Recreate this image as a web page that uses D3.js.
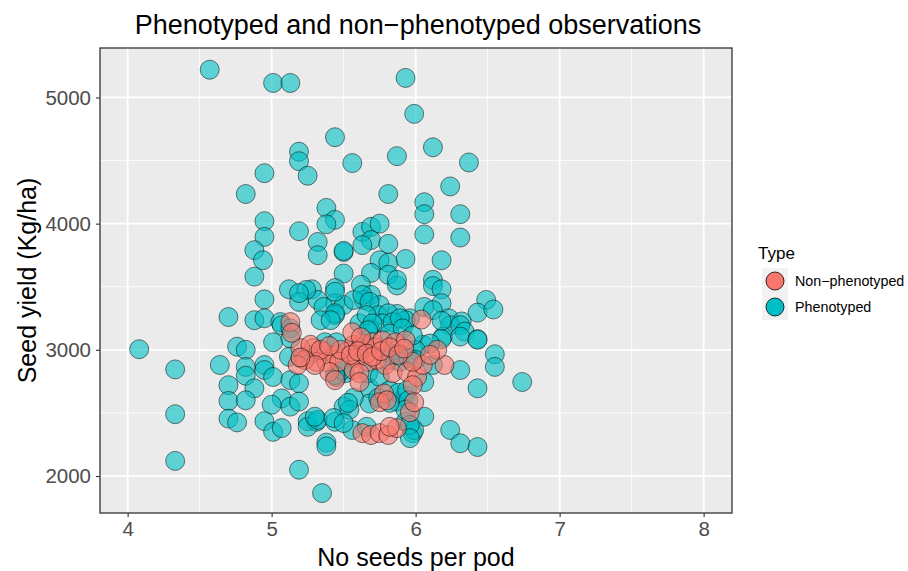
<!DOCTYPE html>
<html>
<head>
<meta charset="utf-8">
<script src="https://d3js.org/d3.v7.min.js"></script>
<style>
body { margin: 0; background: #fff; }
text { font-family: "Liberation Sans", Arial, sans-serif; }
</style>
</head>
<body>
<script>

// Phenotyped observations (seeds per pod, seed yield)
var phenoX = [4.57,5.01,5.13,5.93,5.99,5.44,5.19,5.19,5.25,5.56,5.87,4.95,4.82,5.81,5.38,5.44,5.38,4.95,4.95,5.19,
  4.88,4.94,5.32,5.32,5.50,5.50,5.63,5.69,5.75,5.69,5.63,5.81,5.75,5.81,5.93,5.50,5.69,5.81,4.88,6.12,
  6.37,6.24,6.06,6.06,6.31,6.06,6.31,6.18,6.12,5.62,5.87,5.44,5.28,5.69,5.64,5.75,5.44,5.50,5.32,5.36,
  5.44,5.87,5.96,4.95,4.70,4.88,4.95,5.12,5.24,5.19,5.06,6.12,6.18,6.18,6.06,6.12,6.49,6.43,6.54,6.23,
  6.32,5.07,5.13,5.01,5.13,4.76,4.82,4.64,4.82,4.82,4.95,4.95,5.01,5.13,5.19,5.12,4.70,4.88,4.70,4.82,
  5.07,5.13,5.00,5.19,4.70,4.76,4.95,5.01,5.07,5.25,5.31,4.08,4.33,4.33,4.33,5.25,5.32,5.44,5.56,5.38,
  5.38,5.19,5.35,5.19,5.44,5.44,5.57,5.63,5.68,5.74,5.81,5.93,5.77,5.68,5.61,5.66,5.82,5.88,5.51,5.45,
  5.68,5.68,5.74,5.57,5.50,5.54,5.87,5.93,5.93,5.98,6.24,6.31,6.34,6.19,6.31,6.43,6.43,6.55,6.55,6.74,
  6.31,6.43,6.06,6.12,6.06,5.99,6.24,6.31,6.43,6.18,6.18,6.05,6.10,6.00,5.34,5.41,5.70,5.84,5.89,5.67,
  5.82,5.91,5.98,5.37,5.45,5.61,5.67,5.81,5.89,5.49,5.44,5.67,5.75,5.95,6.00,5.82,5.88,5.94,5.95,5.93,
  5.82,5.53,5.30,5.43,5.50,5.66,5.96,5.96,5.87,5.20,5.26];
var phenoY = [5220,5115,5115,5155,4870,4685,4570,4495,4380,4480,4535,4400,4235,4235,4125,4030,3995,4020,3895,3940,
  3790,3710,3855,3750,3775,3785,3935,3975,4000,3870,3830,3840,3710,3690,3720,3605,3610,3595,3580,4605,
  4485,4295,4170,4075,4075,3915,3890,3710,3555,3515,3510,3490,3480,3435,3395,3355,3370,3355,3395,3340,
  3275,3285,3250,3400,3260,3235,3250,3480,3475,3380,3220,3505,3480,3370,3340,3315,3395,3295,3320,3250,
  3225,3195,3170,3060,3090,3025,3000,2880,2865,2795,2880,2840,2785,2760,2735,2945,2720,2695,2595,2600,
  2615,2550,2565,2590,2455,2425,2435,2350,2380,2435,2430,3005,2845,2490,2120,2390,2445,2430,2365,2265,
  2235,2050,1865,3450,3460,3290,3395,3435,3380,3275,3290,3235,3210,3170,3210,3275,2975,2975,2815,2785,
  2695,2575,2620,2620,2550,2525,2590,2640,2430,2340,3195,3195,3145,3105,3105,3085,3080,2965,2865,2745,
  2840,2695,2745,2880,2470,2365,2365,2260,2230,3230,3085,3040,3050,3000,3235,3235,3210,3220,3250,3155,
  3130,3170,3115,3060,3060,3015,3015,2920,2905,2840,2800,2815,2785,2935,2920,2680,2660,2680,2600,2525,
  2580,2580,2470,2460,2420,2390,2405,2300,3555,2935,2960];

// Non-phenotyped observations
var nonX = [5.29,5.36,5.44,5.52,5.57,5.63,5.70,5.72,5.77,5.86,5.93,5.31,5.38,5.47,5.59,5.67,5.73,5.79,5.40,5.57,
  5.61,5.84,5.94,6.01,5.44,5.61,5.98,5.78,5.75,5.96,5.63,5.69,5.75,5.81,5.87,5.20,5.27,5.34,5.23,5.30,
  5.13,5.14,5.18,5.20,6.20,6.05,5.98,5.99,6.04,5.56,5.62,6.15,6.10,5.80,5.82,5.48,5.55,5.60,5.66,5.70,
  5.76,5.82,5.88,5.92,5.40];
var nonY = [3014,2985,2960,2985,3040,3050,3060,3020,3075,3060,3075,2905,2905,2905,2935,2905,2920,2880,2825,2840,
  2815,2815,2825,2785,2760,2745,2720,2655,2585,2505,2340,2325,2340,2325,2380,3014,3040,3000,2920,2880,
  3220,3135,2880,2940,2880,2880,2905,2585,3240,3140,3100,3000,2960,2600,2390,3000,2960,2990,2970,2945,
  2990,3020,2960,3010,3030];

var xTicks = [4, 5, 6, 7, 8];
var xMinor = [4.5, 5.5, 6.5, 7.5];
var yTicks = [2000, 3000, 4000, 5000];
var yMinor = [2500, 3500, 4500];
var types = ["Non\u2212phenotyped", "Phenotyped"];
var typeColors = ["#F8766D", "#00BFC4"];

var w = 908, h = 571;
var pLeft = 100, pRight = 732, pTop = 48, pBottom = 513;

var svg = d3.select("body").append("svg")
  .attr("width", w)
  .attr("height", h);

var x = d3.scaleLinear().domain([3.808, 8.197]).range([pLeft, pRight]);
var y = d3.scaleLinear().domain([1707, 5392]).range([pBottom, pTop]);

// panel background
svg.append("rect")
  .attr("x", pLeft).attr("y", pTop)
  .attr("width", pRight - pLeft).attr("height", pBottom - pTop)
  .attr("fill", "#EBEBEB");

// grid
svg.selectAll(".xminor").data(xMinor).enter().append("line")
  .attr("x1", function(d) { return x(d); }).attr("x2", function(d) { return x(d); })
  .attr("y1", pTop).attr("y2", pBottom)
  .attr("stroke", "#fff").attr("stroke-width", 0.8);
svg.selectAll(".yminor").data(yMinor).enter().append("line")
  .attr("y1", function(d) { return y(d); }).attr("y2", function(d) { return y(d); })
  .attr("x1", pLeft).attr("x2", pRight)
  .attr("stroke", "#fff").attr("stroke-width", 0.8);
svg.selectAll(".xmajor").data(xTicks).enter().append("line")
  .attr("x1", function(d) { return x(d); }).attr("x2", function(d) { return x(d); })
  .attr("y1", pTop).attr("y2", pBottom)
  .attr("stroke", "#fff").attr("stroke-width", 1.8);
svg.selectAll(".ymajor").data(yTicks).enter().append("line")
  .attr("y1", function(d) { return y(d); }).attr("y2", function(d) { return y(d); })
  .attr("x1", pLeft).attr("x2", pRight)
  .attr("stroke", "#fff").attr("stroke-width", 1.8);

// points
var pheno = phenoX.map(function(d, i) { return [d, phenoY[i]]; });
var non = nonX.map(function(d, i) { return [d, nonY[i]]; });

function drawPoints(data, col) {
  svg.append("g").selectAll("circle")
    .data(data)
    .enter()
    .append("circle")
    .attr("cx", function(d) { return x(d[0]); })
    .attr("cy", function(d) { return y(d[1]); })
    .attr("r", 9.5)
    .attr("fill", col)
    .attr("fill-opacity", 0.6)
    .attr("stroke", "#000")
    .attr("stroke-opacity", 0.5)
    .attr("stroke-width", 1);
}
drawPoints(pheno, typeColors[1]);
drawPoints(non, typeColors[0]);

// panel border
svg.append("rect")
  .attr("x", pLeft).attr("y", pTop)
  .attr("width", pRight - pLeft).attr("height", pBottom - pTop)
  .attr("fill", "none").attr("stroke", "#333").attr("stroke-width", 1.3);

// axes
var xAxis = svg.append("g")
  .attr("transform", "translate(0," + pBottom + ")")
  .call(d3.axisBottom(x).tickValues(xTicks).tickSize(4).tickPadding(4).tickFormat(d3.format("d")));
var yAxis = svg.append("g")
  .attr("transform", "translate(" + pLeft + ",0)")
  .call(d3.axisLeft(y).tickValues(yTicks).tickSize(4).tickPadding(5).tickFormat(d3.format("d")));
[xAxis, yAxis].forEach(function(a) {
  a.select(".domain").remove();
  a.selectAll(".tick line").attr("stroke", "#333").attr("stroke-width", 1.1);
  a.selectAll(".tick text")
    .attr("fill", "#4D4D4D")
    .attr("font-size", 20.5)
    .attr("font-family", "Liberation Sans, Arial, sans-serif");
});

// titles
svg.append("text")
  .attr("x", (pLeft + pRight) / 2 + 2).attr("y", 34)
  .attr("text-anchor", "middle")
  .attr("font-size", 27)
  .text("Phenotyped and non\u2212phenotyped observations");

svg.append("text")
  .attr("x", (pLeft + pRight) / 2).attr("y", 566)
  .attr("text-anchor", "middle")
  .attr("font-size", 25)
  .text("No seeds per pod");

svg.append("text")
  .attr("transform", "translate(36," + ((pTop + pBottom) / 2) + ") rotate(-90)")
  .attr("text-anchor", "middle")
  .attr("font-size", 25)
  .text("Seed yield (Kg/ha)");

// legend
var lg = svg.append("g").attr("transform", "translate(758,0)");
lg.append("text")
  .attr("x", 0).attr("y", 259)
  .attr("font-size", 17)
  .text("Type");
lg.selectAll("rect.key").data(types).enter().append("rect")
  .attr("x", 4).attr("y", function(d, i) { return 268 + i * 26; })
  .attr("width", 26).attr("height", 26)
  .attr("fill", "#F2F2F2");
lg.selectAll("circle").data(types).enter().append("circle")
  .attr("cx", 17).attr("cy", function(d, i) { return 281 + i * 26; })
  .attr("r", 9)
  .attr("fill", function(d, i) { return typeColors[i]; })
  .attr("stroke", "#000").attr("stroke-opacity", 0.8).attr("stroke-width", 1);
lg.selectAll("text.lab").data(types).enter().append("text")
  .attr("x", 37).attr("y", function(d, i) { return 286 + i * 26; })
  .attr("font-size", 14.3)
  .text(function(d) { return d; });

</script>
</body>
</html>
